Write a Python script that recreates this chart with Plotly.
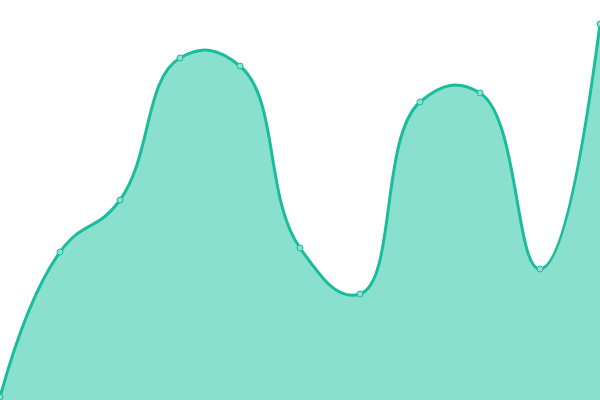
import plotly.graph_objects as pgo

x_vals = [0, 1, 2, 3, 4, 5, 6, 7, 8, 9, 10]
y_vals = [3, 148, 200, 342, 334, 152, 106, 298, 307, 131, 376]

fig = pgo.Figure()

fig.add_trace(
    pgo.Scatter(x=x_vals, y=y_vals, mode='lines+markers', fill='tozeroy',
                fillcolor='#8ae0cf',
                line={'color': '#1abc9c', 'width': 3, 'shape': 'spline', 'smoothing': 1.3},
                marker={'size': 6, 'color': '#8ae0cf', 'line': {'color': '#1abc9c', 'width': 1}},
                cliponaxis=False)
)

fig.update_layout(
    width=600, height=400,
    margin={'l': 0, 'r': 0, 't': 0, 'b': 0},
    paper_bgcolor='white', plot_bgcolor='white',
    showlegend=False,
    xaxis={'range': [0, 10], 'visible': False},
    yaxis={'range': [0, 400], 'visible': False},
)

# page has an 8px body margin by default, drop it so the chart sits at 0,0
fig.write_html("out.html", config={'displayModeBar': False},
               post_script="document.body.style.margin='0';")
